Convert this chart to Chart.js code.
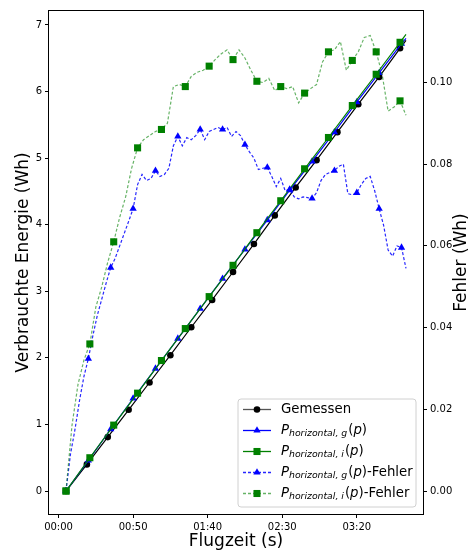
<!DOCTYPE html>
<html>
<head>
<meta charset="utf-8">
<script src="https://cdn.jsdelivr.net/npm/chart.js@4.4.0/dist/chart.umd.min.js"></script>
<style>
  html, body { margin: 0; padding: 0; background: #fff; }
</style>
</head>
<body>
<canvas id="chart" width="472" height="556"></canvas>
<script>
"use strict";

// Achsen-Ticks (x in Sekunden, Anzeige als mm:ss)
const xTicks = [0, 50, 100, 150, 200];
const yTicks = [0, 1, 2, 3, 4, 5, 6, 7];
const fehlerTicks = [0, 0.02, 0.04, 0.06, 0.08, 0.10];

// Verbrauchte Energie (Wh)
const gemZeit = [5, 19, 33, 47, 61, 75, 89, 103, 117, 131, 145, 159, 173, 187, 201, 215, 229, 233];
const gemWerte = [0, 0.40, 0.81, 1.22, 1.63, 2.04, 2.46, 2.87, 3.29, 3.71, 4.14, 4.56, 4.97, 5.39, 5.81, 6.22, 6.65, 6.77];

const gZeit = [5, 20, 35, 50, 65, 80, 95, 110, 125, 140, 155, 170, 185, 200, 215, 230, 233];
const gWerte = [0, 0.46, 0.93, 1.39, 1.84, 2.29, 2.74, 3.19, 3.63, 4.07, 4.52, 4.95, 5.39, 5.84, 6.28, 6.72, 6.80];

const iZeit = [5, 21, 37, 53, 69, 85, 101, 117, 133, 149, 165, 181, 197, 213, 229, 233];
const iWerte = [0, 0.50, 0.99, 1.47, 1.96, 2.44, 2.92, 3.39, 3.88, 4.36, 4.84, 5.31, 5.79, 6.26, 6.74, 6.86];

// Fehler (Wh)
const gFehlerZeit = [5, 8, 11, 14, 17, 20, 23, 26, 29, 32, 35, 38, 41, 44, 47, 50, 53, 56, 59, 62,
  65, 68, 71, 74, 77, 80, 83, 86, 89, 92, 95, 98, 101, 104, 107, 110, 113, 116, 119, 122,
  125, 128, 131, 134, 137, 140, 143, 146, 149, 152, 155, 158, 161, 164, 167, 170, 173, 176, 179, 182,
  185, 188, 191, 194, 197, 200, 203, 206, 209, 212, 215, 218, 221, 224, 227, 230, 233];
const gFehlerWerte = [0, 0.009, 0.015, 0.022, 0.028, 0.0324, 0.038, 0.043, 0.047, 0.051,
  0.0547, 0.057, 0.060, 0.063, 0.066, 0.0691, 0.075, 0.0775, 0.076, 0.0765,
  0.0784, 0.077, 0.0775, 0.079, 0.0845, 0.0868, 0.0845, 0.0865, 0.086, 0.087,
  0.0885, 0.086, 0.088, 0.0885, 0.089, 0.0885, 0.089, 0.0868, 0.088, 0.087,
  0.0848, 0.083, 0.0815, 0.0787, 0.079, 0.0792, 0.077, 0.0745, 0.0765, 0.0735,
  0.0738, 0.072, 0.0715, 0.072, 0.0718, 0.0716, 0.073, 0.076, 0.0775, 0.078,
  0.0784, 0.0795, 0.080, 0.0728, 0.0725, 0.073, 0.075, 0.0765, 0.077, 0.0735,
  0.0691, 0.065, 0.059, 0.0575, 0.060, 0.0596, 0.0545];

const iFehlerZeit = [5, 9, 13, 17, 21, 25, 29, 33, 37, 41, 45, 49, 53, 57, 61, 65, 69, 73, 77, 81,
  85, 89, 93, 97, 101, 105, 109, 113, 117, 121, 125, 129, 133, 137, 141, 145, 149, 153, 157, 161,
  165, 169, 173, 177, 181, 185, 189, 193, 197, 201, 205, 209, 213, 217, 221, 225, 229, 233];
const iFehlerWerte = [0, 0.016, 0.026, 0.032, 0.036, 0.045, 0.050, 0.056, 0.061, 0.067,
  0.072, 0.079, 0.084, 0.086, 0.087, 0.088, 0.0885, 0.090, 0.099, 0.0995,
  0.099, 0.1015, 0.1025, 0.103, 0.104, 0.1056, 0.107, 0.108, 0.1056, 0.108,
  0.106, 0.103, 0.1003, 0.100, 0.101, 0.098, 0.099, 0.0985, 0.099, 0.095,
  0.0974, 0.0985, 0.0995, 0.105, 0.1075, 0.108, 0.110, 0.103, 0.1054, 0.1075,
  0.111, 0.1115, 0.1075, 0.102, 0.093, 0.094, 0.0955, 0.092];

const schrift = "'DejaVu Sans', sans-serif";
Chart.defaults.font.family = schrift;
Chart.defaults.color = '#000';

function zeitLabel(s) {
  const m = Math.floor(s / 60);
  const r = Math.round(s % 60);
  return String(m).padStart(2, '0') + ':' + String(r).padStart(2, '0');
}

function punkte(zeit, werte) {
  return zeit.map((t, i) => ({ x: t, y: werte[i] }));
}

// Marker nur an jedem n-ten Messpunkt
function jedeN(n, r) {
  return ctx => (ctx.dataIndex % n === 0 ? r : 0);
}
// Letzter Punkt (Linienende) ohne Marker
function ohneLetzten(len, r) {
  return ctx => (ctx.dataIndex === len - 1 ? 0 : r);
}

function setzeTicks(liste) {
  return scale => { scale.ticks = liste.map(v => ({ value: v })); };
}

// Marker von Hand zeichnen (für die Legende)
function marker(ctx, stil, x, y, r, farbe) {
  ctx.fillStyle = farbe;
  ctx.beginPath();
  if (stil === 'circle') {
    ctx.arc(x, y, r, 0, Math.PI * 2);
  } else if (stil === 'triangle') {
    for (let k = 0; k < 3; k++) {
      const w = k * 2 * Math.PI / 3;
      const px = x + Math.sin(w) * r, py = y - Math.cos(w) * r;
      if (k === 0) ctx.moveTo(px, py); else ctx.lineTo(px, py);
    }
    ctx.closePath();
  } else {
    const s = r * Math.SQRT1_2;
    ctx.rect(x - s, y - s, 2 * s, 2 * s);
  }
  ctx.fill();
}

const pTeile = [['P', 'i'], ['horizontal, g', 's'], ['(', 'n'], ['p', 'i'], [')', 'n']];
const pTeileI = [['P', 'i'], ['horizontal, i', 's'], ['(', 'n'], ['p', 'i'], [')', 'n']];

const eintraege = [
  { linie: '#555', dash: [], stil: 'circle', r: 3.3, farbe: 'black', text: [['Gemessen', 'n']] },
  { linie: 'blue', dash: [], stil: 'triangle', r: 4.2, farbe: 'blue', text: pTeile },
  { linie: 'green', dash: [], stil: 'rect', r: 5, farbe: 'green', text: pTeileI },
  { linie: 'rgba(0,0,255,0.85)', dash: [3, 2], stil: 'triangle', r: 4.2, farbe: 'blue', text: pTeile.concat([['-Fehler', 'n']]) },
  { linie: 'rgba(0,128,0,0.6)', dash: [3, 2], stil: 'rect', r: 5, farbe: 'green', text: pTeileI.concat([['-Fehler', 'n']]) }
];

const rahmen = {
  id: 'rahmen',
  afterDatasetsDraw(chart) {
    const { ctx, chartArea: a } = chart;
    ctx.save();
    ctx.strokeStyle = '#000';
    ctx.lineWidth = 1;
    ctx.strokeRect(a.left - 0.5, a.top - 0.5, a.right - a.left + 1, a.bottom - a.top + 1);
    ctx.restore();
  }
};

const extras = {
  id: 'extras',
  afterDraw(chart) {
    const { ctx, chartArea: a } = chart;
    ctx.save();

    // rechter Achsentitel, von unten nach oben wie links
    ctx.font = '17px ' + schrift;
    ctx.fillStyle = '#000';
    ctx.textAlign = 'center';
    ctx.textBaseline = 'middle';
    ctx.translate(462, (a.top + a.bottom) / 2);
    ctx.rotate(-Math.PI / 2);
    ctx.fillText('Fehler (Wh)', 0, 0);
    ctx.setTransform(1, 0, 0, 1, 0, 0);

    // Legende
    const bw = 178, bh = 108;
    const bx = a.right - 7 - bw, by = a.bottom - 7 - bh, rr = 3;
    ctx.beginPath();
    ctx.moveTo(bx + rr, by);
    ctx.arcTo(bx + bw, by, bx + bw, by + bh, rr);
    ctx.arcTo(bx + bw, by + bh, bx, by + bh, rr);
    ctx.arcTo(bx, by + bh, bx, by, rr);
    ctx.arcTo(bx, by, bx + bw, by, rr);
    ctx.closePath();
    ctx.fillStyle = 'rgba(255,255,255,0.85)';
    ctx.fill();
    ctx.strokeStyle = '#d0d0d0';
    ctx.lineWidth = 1;
    ctx.stroke();

    ctx.textAlign = 'left';
    eintraege.forEach((e, i) => {
      const y = by + 10.5 + i * 21;
      ctx.strokeStyle = e.linie;
      ctx.lineWidth = 1.3;
      ctx.setLineDash(e.dash);
      ctx.beginPath();
      ctx.moveTo(bx + 5, y);
      ctx.lineTo(bx + 33, y);
      ctx.stroke();
      ctx.setLineDash([]);
      marker(ctx, e.stil, bx + 19, y, e.r, e.farbe);

      let x = bx + 43;
      ctx.fillStyle = '#000';
      e.text.forEach(([t, art]) => {
        let dy = 0;
        if (art === 'n') ctx.font = '13.3px ' + schrift;
        else if (art === 'i') ctx.font = 'italic 13.3px ' + schrift;
        else { ctx.font = 'italic 9.3px ' + schrift; dy = 3.5; }
        ctx.fillText(t, x, y + dy);
        x += ctx.measureText(t).width + (art === 's' ? 1 : 0);
      });
    });
    ctx.restore();
  }
};

const achsenSchrift = { family: schrift, size: 10 };
const tickGitter = { drawOnChartArea: false, tickLength: 4, color: '#000', lineWidth: 1 };

new Chart(document.getElementById('chart'), {
  type: 'line',
  data: {
    datasets: [
      {
        label: 'Gemessen',
        data: punkte(gemZeit, gemWerte),
        yAxisID: 'y',
        borderColor: 'black',
        backgroundColor: 'black',
        borderWidth: 1.2,
        pointStyle: 'circle',
        pointRadius: ohneLetzten(gemZeit.length, 3.3),
        pointBorderWidth: 0,
        order: 5
      },
      {
        label: 'P horizontal,g (p)',
        data: punkte(gZeit, gWerte),
        yAxisID: 'y',
        borderColor: 'blue',
        backgroundColor: 'blue',
        borderWidth: 1.2,
        pointStyle: 'triangle',
        pointRadius: ohneLetzten(gZeit.length, 4.2),
        pointBorderWidth: 0,
        order: 4
      },
      {
        label: 'P horizontal,i (p)',
        data: punkte(iZeit, iWerte),
        yAxisID: 'y',
        borderColor: 'green',
        backgroundColor: 'green',
        borderWidth: 1.2,
        pointStyle: 'rect',
        pointRadius: ohneLetzten(iZeit.length, 5),
        pointBorderWidth: 0,
        order: 3
      },
      {
        label: 'P horizontal,g (p)-Fehler',
        data: punkte(gFehlerZeit, gFehlerWerte),
        yAxisID: 'y1',
        borderColor: 'rgba(0,0,255,0.85)',
        backgroundColor: 'blue',
        pointBackgroundColor: 'blue',
        borderWidth: 1.2,
        borderDash: [3, 2],
        pointStyle: 'triangle',
        pointRadius: jedeN(5, 4.2),
        pointBorderWidth: 0,
        order: 2
      },
      {
        label: 'P horizontal,i (p)-Fehler',
        data: punkte(iFehlerZeit, iFehlerWerte),
        yAxisID: 'y1',
        borderColor: 'rgba(0,128,0,0.6)',
        backgroundColor: 'green',
        pointBackgroundColor: 'green',
        borderWidth: 1.2,
        borderDash: [3, 2],
        pointStyle: 'rect',
        pointRadius: jedeN(4, 5),
        pointBorderWidth: 0,
        order: 1
      }
    ]
  },
  options: {
    responsive: false,
    animation: false,
    devicePixelRatio: 1,
    layout: { padding: { top: 11, left: 0, right: 0, bottom: 0 } },
    plugins: {
      legend: { display: false },
      tooltip: { enabled: false }
    },
    elements: { line: { tension: 0 } },
    scales: {
      x: {
        type: 'linear',
        min: -6.4,
        max: 244.4,
        afterBuildTicks: setzeTicks(xTicks),
        afterFit: s => { s.height = 42; },
        ticks: { callback: v => zeitLabel(v), font: achsenSchrift, color: '#000', padding: 3, maxRotation: 0 },
        grid: tickGitter,
        border: { display: false },
        title: { display: true, text: 'Flugzeit (s)', font: { family: schrift, size: 17 }, color: '#000', padding: { top: 0, bottom: 4 } }
      },
      y: {
        position: 'left',
        min: -0.345,
        max: 7.21,
        afterBuildTicks: setzeTicks(yTicks),
        afterFit: s => { s.width = 49; },
        ticks: { font: achsenSchrift, color: '#000', padding: 3 },
        grid: tickGitter,
        border: { display: false },
        title: { display: true, text: 'Verbrauchte Energie (Wh)', font: { family: schrift, size: 17 }, color: '#000', padding: { top: 13, bottom: 0 } }
      },
      y1: {
        position: 'right',
        min: -0.00563,
        max: 0.1175,
        afterBuildTicks: setzeTicks(fehlerTicks),
        afterFit: s => { s.width = 49; },
        ticks: { callback: v => v.toFixed(2), font: achsenSchrift, color: '#000', padding: 3 },
        grid: tickGitter,
        border: { display: false }
      }
    }
  },
  plugins: [rahmen, extras]
});
</script>
</body>
</html>
